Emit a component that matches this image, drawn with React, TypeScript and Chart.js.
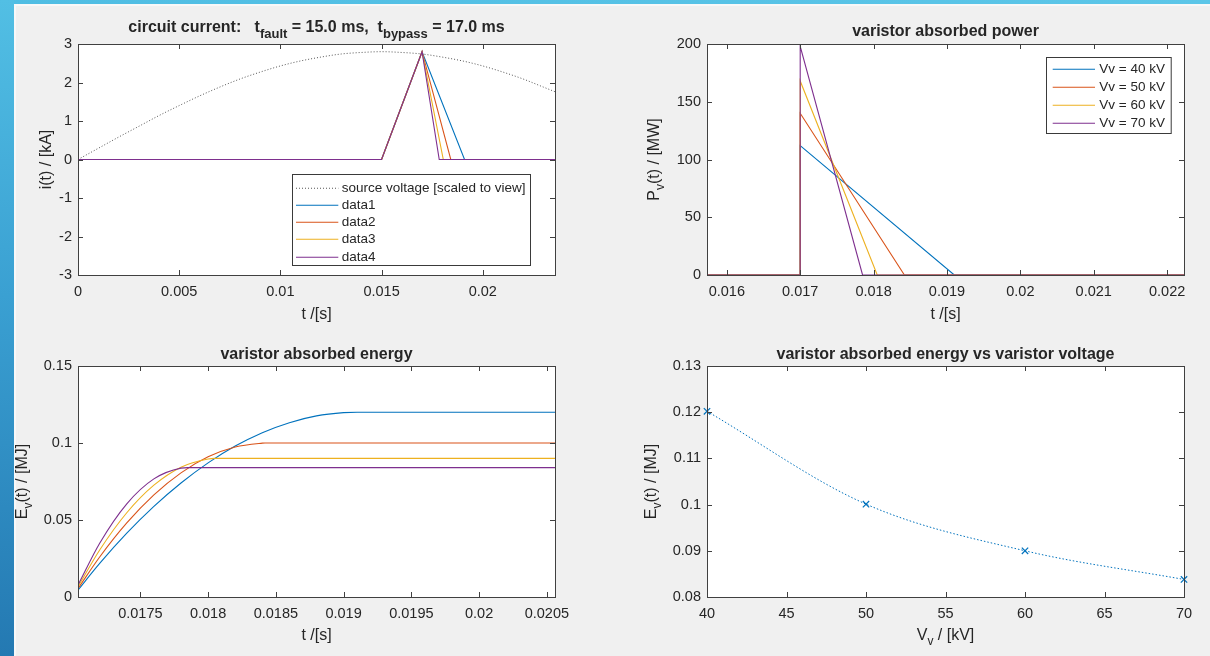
import React, { useEffect, useRef } from "react";
import { Chart, registerables } from "chart.js";

Chart.register(...registerables);

const FONT = '"Liberation Sans", Arial, Helvetica, sans-serif';
const BLUE = "#0072BD";
const RED = "#D95319";
const YELLOW = "#EDB120";
const PURPLE = "#7E2F8E";
const AX = "#404040";

// ---------- Plot 1: circuit current ----------
const SRC_T = [0, 0.001, 0.002, 0.003, 0.004, 0.005, 0.006, 0.007, 0.008, 0.009, 0.01, 0.011, 0.012, 0.013, 0.014, 0.015, 0.016, 0.017, 0.018, 0.019, 0.02, 0.021, 0.022, 0.023, 0.02357];
const SRC_V = [0, 0.29, 0.58, 0.86, 1.14, 1.4, 1.65, 1.88, 2.09, 2.27, 2.43, 2.56, 2.66, 2.74, 2.78, 2.8, 2.78, 2.74, 2.66, 2.56, 2.43, 2.27, 2.09, 1.88, 1.76];
const CUR_T1 = [0, 0.015, 0.017, 0.0191, 0.02357];
const CUR_T2 = [0, 0.015, 0.017, 0.01842, 0.02357];
const CUR_T3 = [0, 0.015, 0.017, 0.01805, 0.02357];
const CUR_T4 = [0, 0.015, 0.017, 0.01785, 0.02357];
const CUR_I = [0, 0, 2.8, 0, 0];
const A_XTICKS = [0, 0.005, 0.01, 0.015, 0.02];
const A_YTICKS = [-3, -2, -1, 0, 1, 2, 3];

// ---------- Plot 2: varistor absorbed power ----------
const POW_T1 = [0.01573, 0.017, 0.017, 0.0191, 0.02223];
const POW_T2 = [0.01573, 0.017, 0.017, 0.01842, 0.02223];
const POW_T3 = [0.01573, 0.017, 0.017, 0.01805, 0.02223];
const POW_T4 = [0.01573, 0.017, 0.017, 0.01785, 0.02223];
const POW_1 = [0, 0, 112, 0, 0];
const POW_2 = [0, 0, 140, 0, 0];
const POW_3 = [0, 0, 168, 0, 0];
const POW_4 = [0, 0, 198, 0, 0];
const B_XTICKS = [0.016, 0.017, 0.018, 0.019, 0.02, 0.021, 0.022];
const B_YTICKS = [0, 50, 100, 150, 200];
const V_LABELS = ["Vv = 40 kV", "Vv = 50 kV", "Vv = 60 kV", "Vv = 70 kV"];

// ---------- Plot 3: varistor absorbed energy ----------
const EN_T1 = [0.01704, 0.0172, 0.0174, 0.0176, 0.0178, 0.018, 0.0182, 0.0184, 0.0186, 0.0188, 0.019, 0.0191, 0.02056];
const EN_1 = [0.0045, 0.0218, 0.0414, 0.0588, 0.074, 0.0871, 0.098, 0.1067, 0.1132, 0.1176, 0.1197, 0.12, 0.12];
const EN_T2 = [0.01704, 0.0172, 0.0174, 0.0176, 0.0178, 0.018, 0.0182, 0.0184, 0.01842, 0.02056];
const EN_2 = [0.0055, 0.026, 0.0481, 0.0663, 0.0806, 0.091, 0.0974, 0.0999, 0.1, 0.1];
const EN_T3 = [0.01704, 0.0172, 0.0174, 0.0176, 0.0178, 0.018, 0.01805, 0.02056];
const EN_3 = [0.0066, 0.0305, 0.0547, 0.0726, 0.0843, 0.0896, 0.09, 0.09];
const EN_T4 = [0.01704, 0.0172, 0.0174, 0.0176, 0.0178, 0.01785, 0.02056];
const EN_4 = [0.0077, 0.0349, 0.0605, 0.0767, 0.0837, 0.084, 0.084];
const C_XTICKS = [0.0175, 0.018, 0.0185, 0.019, 0.0195, 0.02, 0.0205];
const C_YTICKS = [0, 0.05, 0.1, 0.15];

// ---------- Plot 4: energy vs voltage ----------
const VV = [40, 50, 60, 70];
const EV = [0.1202, 0.1001, 0.09, 0.0838];
const D_XTICKS = [40, 45, 50, 55, 60, 65, 70];
const D_YTICKS = [0.08, 0.09, 0.1, 0.11, 0.12, 0.13];

type Seg = { t: string; sub?: boolean };
type LegendItem = { ds: number };
type Deco = {
  title: Seg[];
  titleDy: number;
  xLabel: Seg[];
  xLabelDy: number;
  yLabel: Seg[];
  yLabelDx: number;
  legend?: {
    x: number; y: number; w: number; h: number;
    row0: number; rowH: number; line0: number; line1: number; textX: number;
    items: LegendItem[];
  };
};

function drawRich(ctx: CanvasRenderingContext2D, segs: Seg[], cx: number, cy: number, rotate: boolean, size: number, subSize: number, bold: boolean, subDy: number) {
  ctx.save();
  ctx.translate(cx, cy);
  if (rotate) ctx.rotate(-Math.PI / 2);
  const fontOf = (sub?: boolean) => `${bold ? "bold " : ""}${sub ? subSize : size}px ${FONT}`;
  let w = 0;
  for (const s of segs) {
    ctx.font = fontOf(s.sub);
    w += ctx.measureText(s.t).width;
  }
  let x = -w / 2;
  ctx.textAlign = "left";
  ctx.textBaseline = "alphabetic";
  ctx.fillStyle = "#262626";
  for (const s of segs) {
    ctx.font = fontOf(s.sub);
    ctx.fillText(s.t, x, s.sub ? subDy : 0);
    x += ctx.measureText(s.t).width;
  }
  ctx.restore();
}

function makeDeco(d: Deco) {
  return {
    id: "matlabDeco",
    beforeDraw(chart: any) {
      const { ctx, chartArea: a } = chart;
      ctx.save();
      ctx.fillStyle = "#ffffff";
      ctx.fillRect(a.left, a.top, a.right - a.left, a.bottom - a.top);
      ctx.restore();
    },
    afterDraw(chart: any) {
      const { ctx, chartArea: a } = chart;
      const xs = chart.scales.x;
      const ys = chart.scales.y;
      ctx.save();
      ctx.strokeStyle = AX;
      ctx.lineWidth = 1;
      const TL = 5;
      ctx.beginPath();
      for (const t of xs.ticks) {
        const p = Math.round(xs.getPixelForValue(t.value)) + 0.5;
        ctx.moveTo(p, a.bottom);
        ctx.lineTo(p, a.bottom - TL);
        ctx.moveTo(p, a.top);
        ctx.lineTo(p, a.top + TL);
      }
      for (const t of ys.ticks) {
        const p = Math.round(ys.getPixelForValue(t.value)) + 0.5;
        ctx.moveTo(a.left, p);
        ctx.lineTo(a.left + TL, p);
        ctx.moveTo(a.right, p);
        ctx.lineTo(a.right - TL, p);
      }
      ctx.stroke();
      ctx.strokeStyle = AX;
      ctx.strokeRect(Math.round(a.left) + 0.5, Math.round(a.top) + 0.5, Math.round(a.right - a.left), Math.round(a.bottom - a.top));
      if (d.legend) {
        const L = d.legend;
        const bx = a.left + L.x;
        const by = a.top + L.y;
        ctx.fillStyle = "#ffffff";
        ctx.fillRect(bx, by, L.w, L.h);
        ctx.strokeStyle = "#3a3a3a";
        ctx.strokeRect(Math.round(bx) + 0.5, Math.round(by) + 0.5, L.w, L.h);
        L.items.forEach((it, i) => {
          const ds = chart.data.datasets[it.ds];
          const y = Math.round(by + L.row0 + i * L.rowH) + 0.25;
          ctx.save();
          ctx.strokeStyle = ds.borderColor;
          ctx.lineWidth = 1.1;
          ctx.setLineDash(ds.borderDash || []);
          ctx.beginPath();
          ctx.moveTo(bx + L.line0, y);
          ctx.lineTo(bx + L.line1, y);
          ctx.stroke();
          ctx.restore();
          ctx.fillStyle = "#262626";
          ctx.font = `13.5px ${FONT}`;
          ctx.textAlign = "left";
          ctx.textBaseline = "middle";
          ctx.fillText(ds.label, bx + L.textX, y);
        });
      }
      ctx.restore();
      const cx = (a.left + a.right) / 2;
      const cy = (a.top + a.bottom) / 2;
      drawRich(ctx, d.title, cx, a.top + d.titleDy, false, 16, 13, true, 6.5);
      drawRich(ctx, d.xLabel, cx, a.bottom + d.xLabelDy, false, 16, 12, false, 5);
      drawRich(ctx, d.yLabel, a.left + d.yLabelDx, cy, true, 16, 12, false, 5);
    },
  };
}

function fmt(v: number) {
  return String(Number(v.toPrecision(6)));
}

function axes(xmin: number, xmax: number, xt: number[], ymin: number, ymax: number, yt: number[], yw: number, xh: number) {
  return {
    x: {
      type: "linear",
      min: xmin,
      max: xmax,
      afterBuildTicks: (s: any) => { s.ticks = xt.map((v) => ({ value: v })); },
      afterFit: (s: any) => { s.height = xh; s.paddingLeft = 0; s.paddingRight = 0; },
      grid: { display: false, drawTicks: false },
      border: { display: false },
      ticks: { padding: 8, maxRotation: 0, autoSkip: false, color: "#262626", font: { family: FONT, size: 14.5 }, callback: (v: any) => fmt(Number(v)) },
    },
    y: {
      type: "linear",
      min: ymin,
      max: ymax,
      afterBuildTicks: (s: any) => { s.ticks = yt.map((v) => ({ value: v })); },
      afterFit: (s: any) => { s.width = yw; s.paddingTop = 0; s.paddingBottom = 0; },
      grid: { display: false, drawTicks: false },
      border: { display: false },
      ticks: { padding: 6, autoSkip: false, color: "#262626", font: { family: FONT, size: 14.5 }, callback: (v: any) => fmt(Number(v)) },
    },
  };
}

function pts(xs: number[], ys: number[]) {
  return xs.map((x, i) => ({ x, y: ys[i] }));
}

function line(label: string, data: any[], color: string, order: number, extra: any = {}) {
  return {
    label,
    data,
    borderColor: color,
    backgroundColor: color,
    borderWidth: 1.1,
    pointRadius: 0,
    fill: false,
    tension: 0,
    order,
    ...extra,
  };
}

type Spec = { left: number; top: number; w: number; h: number; config: any };

function ChartBox({ spec }: { spec: Spec }) {
  const ref = useRef<HTMLCanvasElement>(null);
  useEffect(() => {
    if (!ref.current) return;
    const ch = new Chart(ref.current, spec.config);
    return () => ch.destroy();
  }, []);
  return (
    <canvas
      ref={ref}
      width={spec.w}
      height={spec.h}
      style={{ position: "absolute", left: spec.left, top: spec.top, width: spec.w, height: spec.h }}
    />
  );
}

const baseOptions = (scales: any, padding: any) => ({
  responsive: false,
  animation: false,
  events: [],
  layout: { padding },
  plugins: { legend: { display: false }, title: { display: false }, tooltip: { enabled: false } },
  scales,
});

const specA: Spec = {
  left: 14, top: 5, w: 591, h: 323,
  config: {
    type: "line",
    data: {
      datasets: [
        line("source voltage [scaled to view]", pts(SRC_T, SRC_V), "#555555", 4, { borderDash: [1, 2], cubicInterpolationMode: "monotone", borderWidth: 1 }),
        line("data1", pts(CUR_T1, CUR_I), BLUE, 3),
        line("data2", pts(CUR_T2, CUR_I), RED, 2),
        line("data3", pts(CUR_T3, CUR_I), YELLOW, 1),
        line("data4", pts(CUR_T4, CUR_I), PURPLE, 0),
      ],
    },
    options: baseOptions(axes(0, 0.02357, A_XTICKS, -3, 3, A_YTICKS, 64, 53), { left: 0, top: 39, right: 50, bottom: 0 }),
    plugins: [
      makeDeco({
        title: [{ t: "circuit current:   t" }, { t: "fault", sub: true }, { t: " = 15.0 ms,  t" }, { t: "bypass", sub: true }, { t: " = 17.0 ms" }],
        titleDy: -12.5,
        xLabel: [{ t: "t /[s]" }],
        xLabelDy: 44,
        yLabel: [{ t: "i(t) / [kA]" }],
        yLabelDx: -27,
        legend: { x: 213.7, y: 130.3, w: 238, h: 91, row0: 13.4, rowH: 17.25, line0: 4.3, line1: 46.6, textX: 50, items: [{ ds: 0 }, { ds: 1 }, { ds: 2 }, { ds: 3 }, { ds: 4 }] },
      }),
    ],
  },
};

const specB: Spec = {
  left: 605, top: 5, w: 605, h: 323,
  config: {
    type: "line",
    data: {
      datasets: [
        line(V_LABELS[0], pts(POW_T1, POW_1), BLUE, 3),
        line(V_LABELS[1], pts(POW_T2, POW_2), RED, 2),
        line(V_LABELS[2], pts(POW_T3, POW_3), YELLOW, 1),
        line(V_LABELS[3], pts(POW_T4, POW_4), PURPLE, 0),
      ],
    },
    options: baseOptions(axes(0.01573, 0.02223, B_XTICKS, 0, 200, B_YTICKS, 102, 53), { left: 0, top: 39, right: 26, bottom: 0 }),
    plugins: [
      makeDeco({
        title: [{ t: "varistor absorbed power" }],
        titleDy: -8.4,
        xLabel: [{ t: "t /[s]" }],
        xLabelDy: 44,
        yLabel: [{ t: "P" }, { t: "v", sub: true }, { t: "(t) / [MW]" }],
        yLabelDx: -48.4,
        legend: { x: 339, y: 13.3, w: 124.7, h: 76, row0: 12, rowH: 17.8, line0: 6.7, line1: 49, textX: 53.3, items: [{ ds: 0 }, { ds: 1 }, { ds: 2 }, { ds: 3 }] },
      }),
    ],
  },
};

const specC: Spec = {
  left: 14, top: 328, w: 591, h: 328,
  config: {
    type: "line",
    data: {
      datasets: [
        line("data1", pts(EN_T1, EN_1), BLUE, 3, { cubicInterpolationMode: "monotone" }),
        line("data2", pts(EN_T2, EN_2), RED, 2, { cubicInterpolationMode: "monotone" }),
        line("data3", pts(EN_T3, EN_3), YELLOW, 1, { cubicInterpolationMode: "monotone" }),
        line("data4", pts(EN_T4, EN_4), PURPLE, 0, { cubicInterpolationMode: "monotone" }),
      ],
    },
    options: baseOptions(axes(0.01704, 0.02056, C_XTICKS, 0, 0.15, C_YTICKS, 64, 59), { left: 0, top: 38, right: 50, bottom: 0 }),
    plugins: [
      makeDeco({
        title: [{ t: "varistor absorbed energy" }],
        titleDy: -7.5,
        xLabel: [{ t: "t /[s]" }],
        xLabelDy: 42.5,
        yLabel: [{ t: "E" }, { t: "v", sub: true }, { t: "(t) / [MJ]" }],
        yLabelDx: -51,
      }),
    ],
  },
};

const specD: Spec = {
  left: 605, top: 328, w: 605, h: 328,
  config: {
    type: "line",
    data: {
      datasets: [
        line("energy", pts(VV, EV), BLUE, 0, {
          borderDash: [1.5, 2],
          borderWidth: 1,
          cubicInterpolationMode: "monotone",
          pointRadius: 4.5,
          pointStyle: "crossRot",
          pointBorderWidth: 1.2,
          pointBorderColor: BLUE,
          clip: false,
        }),
      ],
    },
    options: baseOptions(axes(40, 70, D_XTICKS, 0.08, 0.13, D_YTICKS, 102, 59), { left: 0, top: 38, right: 26, bottom: 0 }),
    plugins: [
      makeDeco({
        title: [{ t: "varistor absorbed energy vs varistor voltage" }],
        titleDy: -7.5,
        xLabel: [{ t: "V" }, { t: "v", sub: true }, { t: " / [kV]" }],
        xLabelDy: 42.5,
        yLabel: [{ t: "E" }, { t: "v", sub: true }, { t: "(t) / [MJ]" }],
        yLabelDx: -51.4,
      }),
    ],
  },
};

export default function App() {
  return (
    <div style={{ position: "fixed", left: 0, top: 0, width: 1210, height: 656, overflow: "hidden", background: "#f0f0f0", fontFamily: FONT }}>
      <div style={{ position: "absolute", left: 0, top: 0, width: 1210, height: 4, background: "linear-gradient(90deg, #4fbde3, #5cc6e8)" }} />
      <div style={{ position: "absolute", left: 0, top: 0, width: 14, height: 656, background: "linear-gradient(180deg, #52bfe4 0%, #3aa0d2 45%, #2479b2 100%)" }} />
      <div style={{ position: "absolute", left: 14, top: 4, width: 1196, height: 2, background: "#f8f8f8" }} />
      <div style={{ position: "absolute", left: 14, top: 4, width: 2, height: 652, background: "#f8f8f8" }} />
      <ChartBox spec={specA} />
      <ChartBox spec={specB} />
      <ChartBox spec={specC} />
      <ChartBox spec={specD} />
    </div>
  );
}
